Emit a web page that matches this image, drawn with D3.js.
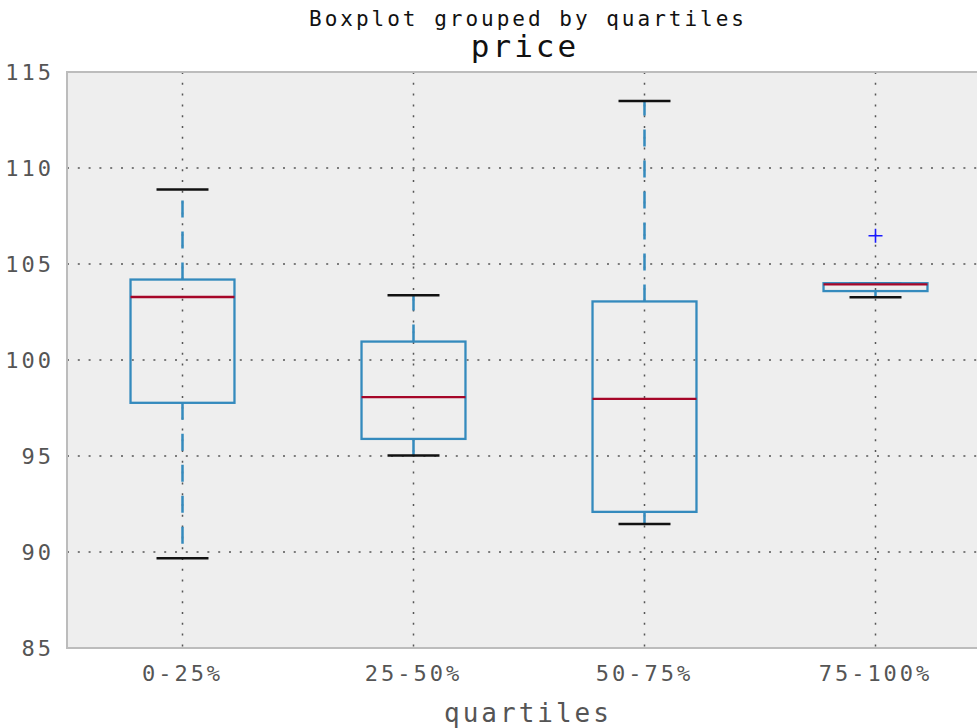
<!DOCTYPE html>
<html>
<head>
<meta charset="utf-8">
<script src="https://d3js.org/d3.v7.min.js"></script>
<style>
  body { margin: 0; background: #fff; }
  text { font-family: "DejaVu Sans Mono", monospace; letter-spacing: 3px; }
</style>
</head>
<body>
<svg></svg>
<script>
// data
let categories = ['0-25%', '25-50%', '50-75%', '75-100%'];
let whiskerLow = [89.68, 95.02, 91.46, 103.27];
let q1 = [97.77, 95.89, 92.09, 103.59];
let median = [103.28, 98.07, 97.98, 103.94];
let q3 = [104.19, 100.96, 103.05, 104.0];
let whiskerHigh = [108.88, 103.37, 113.49, 104.0];
let outliers = [[], [], [], [106.47]];
let yTicks = [85, 90, 95, 100, 105, 110, 115];

let boxes = categories.map((c, i) => ({
    name: c, lo: whiskerLow[i], q1: q1[i], med: median[i], q3: q3[i], hi: whiskerHigh[i], out: outliers[i]
}));

let width = 977, height = 728;
let plotLeft = 67, plotTop = 72, plotBottom = 648, plotRight = 991;

let svg = d3.select('svg')
    .attr('width', width)
    .attr('height', height);

let xScale = d3.scaleBand()
    .domain(categories)
    .range([plotLeft, plotRight])
    .padding(0);

let yScale = d3.scaleLinear()
    .domain([85, 115])
    .range([plotBottom, plotTop]);

// plot background
svg.append('rect')
    .attr('x', plotLeft).attr('y', plotTop)
    .attr('width', plotRight - plotLeft).attr('height', plotBottom - plotTop)
    .attr('fill', '#eeeeee');

// grid
let grid = svg.append('g');
grid.selectAll('.hgrid')
    .data(yTicks.slice(1, -1))
    .enter().append('line')
    .attr('x1', plotLeft).attr('x2', plotRight)
    .attr('y1', d => yScale(d)).attr('y2', d => yScale(d))
    .attr('stroke', '#555').attr('stroke-width', 1.5)
    .attr('stroke-dasharray', '2,8.8');
grid.selectAll('.vgrid')
    .data(categories)
    .enter().append('line')
    .attr('x1', d => xScale(d) + xScale.bandwidth() / 2)
    .attr('x2', d => xScale(d) + xScale.bandwidth() / 2)
    .attr('y1', plotTop).attr('y2', plotBottom)
    .attr('stroke', '#555').attr('stroke-width', 1.5)
    .attr('stroke-dasharray', '2,8.8');

// spines
svg.append('rect')
    .attr('x', plotLeft).attr('y', plotTop)
    .attr('width', plotRight - plotLeft).attr('height', plotBottom - plotTop)
    .attr('fill', 'none')
    .attr('stroke', '#bcbcbc').attr('stroke-width', 2);

let boxW = xScale.bandwidth() * 0.45;
let capW = boxW / 2;
let cx = d => xScale(d.name) + xScale.bandwidth() / 2;

let g = svg.selectAll('.box')
    .data(boxes)
    .enter().append('g');

// whiskers
g.append('line')
    .attr('x1', cx).attr('x2', cx)
    .attr('y1', d => yScale(d.q3)).attr('y2', d => yScale(d.hi))
    .attr('stroke', '#348ABD').attr('stroke-width', 2.5)
    .attr('stroke-dasharray', '17,14');
g.append('line')
    .attr('x1', cx).attr('x2', cx)
    .attr('y1', d => yScale(d.q1)).attr('y2', d => yScale(d.lo))
    .attr('stroke', '#348ABD').attr('stroke-width', 2.5)
    .attr('stroke-dasharray', '17,14');

// caps
g.append('line')
    .attr('x1', d => cx(d) - capW / 2).attr('x2', d => cx(d) + capW / 2)
    .attr('y1', d => yScale(d.hi)).attr('y2', d => yScale(d.hi))
    .attr('stroke', '#111').attr('stroke-width', 2.5);
g.append('line')
    .attr('x1', d => cx(d) - capW / 2).attr('x2', d => cx(d) + capW / 2)
    .attr('y1', d => yScale(d.lo)).attr('y2', d => yScale(d.lo))
    .attr('stroke', '#111').attr('stroke-width', 2.5);

// boxes
g.append('rect')
    .attr('x', d => cx(d) - boxW / 2)
    .attr('y', d => yScale(d.q3))
    .attr('width', boxW)
    .attr('height', d => yScale(d.q1) - yScale(d.q3))
    .attr('fill', 'none')
    .attr('stroke', '#348ABD').attr('stroke-width', 2.3);

// medians
g.append('line')
    .attr('x1', d => cx(d) - boxW / 2).attr('x2', d => cx(d) + boxW / 2)
    .attr('y1', d => yScale(d.med)).attr('y2', d => yScale(d.med))
    .attr('stroke', '#A60628').attr('stroke-width', 2.3);

// outliers
g.selectAll('.flier')
    .data(d => d.out.map(v => ({ x: cx(d), v: v })))
    .enter().append('path')
    .attr('d', d => `M${d.x - 7},${yScale(d.v)}h14M${d.x},${yScale(d.v) - 7}v14`)
    .attr('stroke', '#1a1aff').attr('stroke-width', 1.6);

// axes
let yAxis = svg.append('g')
    .attr('transform', `translate(${plotLeft}, 0)`)
    .call(d3.axisLeft(yScale).tickValues(yTicks).tickSize(0).tickPadding(13));
yAxis.select('.domain').remove();
yAxis.selectAll('text')
    .attr('font-family', null)
    .style('font-size', '22px')
    .attr('fill', '#555')
    .attr('dy', '0.32em');

let xAxis = svg.append('g')
    .attr('transform', `translate(0, ${plotBottom})`)
    .call(d3.axisBottom(xScale).tickSize(0).tickPadding(17));
xAxis.select('.domain').remove();
xAxis.selectAll('text')
    .attr('font-family', null)
    .style('font-size', '22px')
    .attr('fill', '#555');

// titles
svg.append('text')
    .attr('x', 528).attr('y', 26)
    .attr('text-anchor', 'middle')
    .style('font-size', '21px')
    .attr('fill', '#111')
    .text('Boxplot grouped by quartiles');

svg.append('text')
    .attr('x', 525).attr('y', 57)
    .attr('text-anchor', 'middle')
    .style('font-size', '31px')
    .attr('fill', '#111')
    .text('price');

svg.append('text')
    .attr('x', 528).attr('y', 722)
    .attr('text-anchor', 'middle')
    .style('font-size', '26px')
    .attr('fill', '#555')
    .text('quartiles');
</script>
</body>
</html>
